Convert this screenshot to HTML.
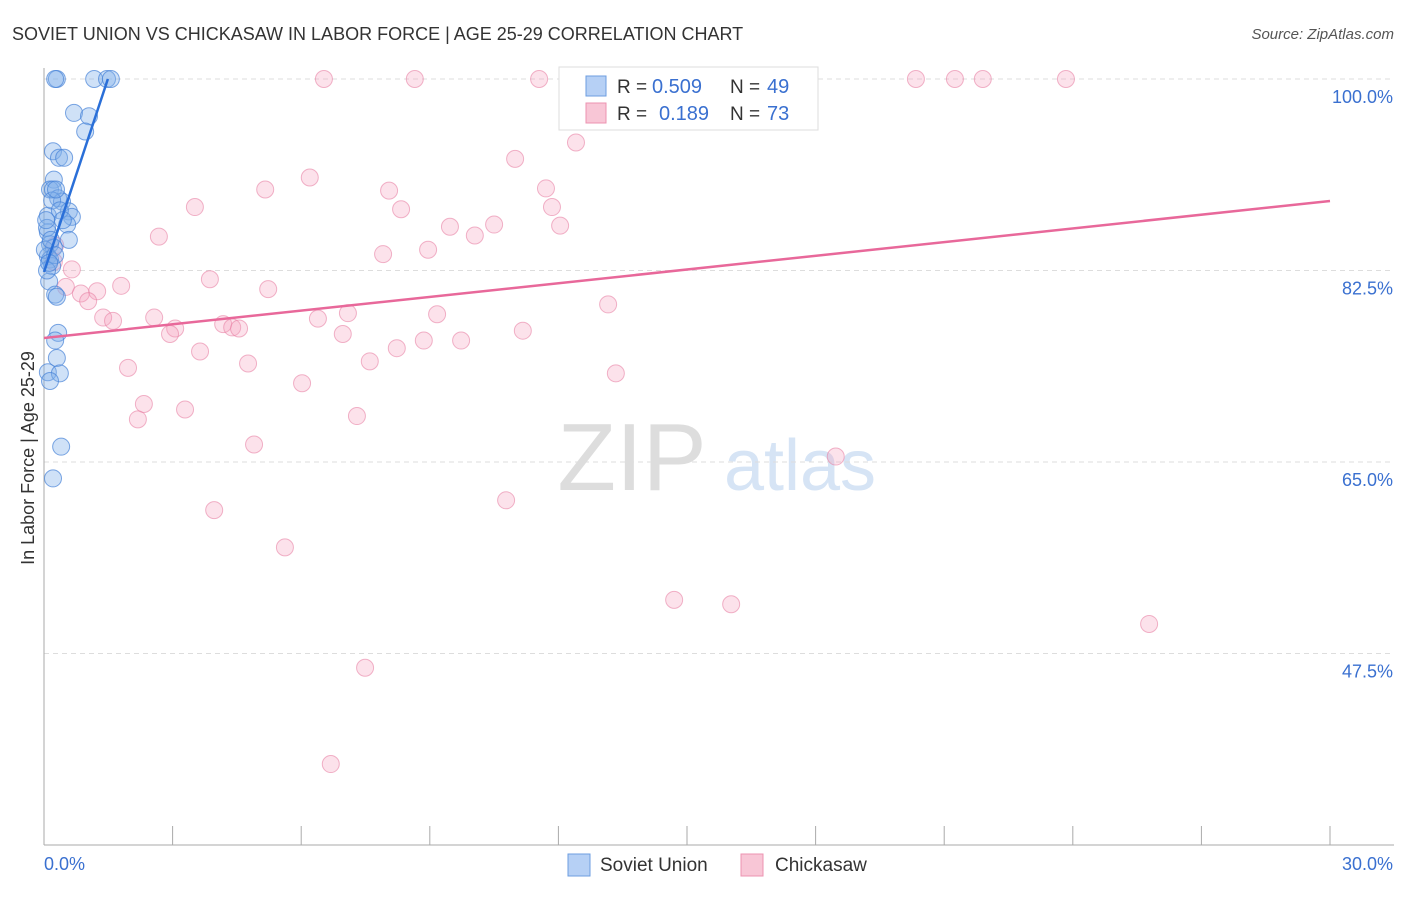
<!DOCTYPE html>
<html><head><meta charset="utf-8"><style>
body{margin:0;background:#fff;font-family:"Liberation Sans",sans-serif}
svg text{font-family:"Liberation Sans",sans-serif}
</style></head><body>
<svg id="c" width="1406" height="892">
<text x="12" y="40" font-size="18" fill="#333">SOVIET UNION VS CHICKASAW IN LABOR FORCE | AGE 25-29 CORRELATION CHART</text>
<text x="1394" y="39" font-size="15" fill="#555" text-anchor="end" font-style="italic">Source: ZipAtlas.com</text>
<text transform="translate(34,458) rotate(-90)" font-size="18" fill="#333" text-anchor="middle">In Labor Force | Age 25-29</text>
<g><text x="632" y="490" font-size="96" fill="#ddd" text-anchor="middle" font-family="Liberation Serif">ZIP</text><text x="800" y="490" font-size="72" fill="#d6e4f5" text-anchor="middle">atlas</text></g>
<g id="grid"></g><g id="axes"></g><g id="pts"></g><g id="lines"></g>
<g>
<rect x="559" y="67" width="259" height="63" fill="#fff" stroke="#ddd"/>
<rect x="586" y="76" width="20" height="20" fill="#b6d0f5" stroke="#6d9ee0"/>
<rect x="586" y="103" width="20" height="20" fill="#f8c6d6" stroke="#ec93b0"/>
<text x="617" y="93" font-size="19" fill="#333">R =</text><text x="652" y="93" font-size="20" fill="#3a70d0">0.509</text>
<text x="730" y="93" font-size="19" fill="#333">N =</text><text x="767" y="93" font-size="20" fill="#3a70d0">49</text>
<text x="617" y="120" font-size="19" fill="#333">R =</text><text x="659" y="120" font-size="20" fill="#3a70d0">0.189</text>
<text x="730" y="120" font-size="19" fill="#333">N =</text><text x="767" y="120" font-size="20" fill="#3a70d0">73</text>
</g>
<g>
<rect x="568" y="854" width="22" height="22" fill="#b6d0f5" stroke="#6d9ee0"/><text x="600" y="871" font-size="19" fill="#333">Soviet Union</text>
<rect x="741" y="854" width="22" height="22" fill="#f8c6d6" stroke="#ec93b0"/><text x="775" y="871" font-size="19" fill="#333">Chickasaw</text>
</g>
</svg>
<script>
const yTicks=[100,82.5,65,47.5];
const yTickLabels=["100.0%","82.5%","65.0%","47.5%"];
const xEndLabels=["0.0%","30.0%"];
const sovietX=[0.30,0.26,1.17,1.47,1.56,0.70,1.05,0.96,0.21,0.35,0.47,0.23,0.14,0.21,0.33,0.42,0.58,0.65,0.54,0.09,0.09,0.58,0.14,0.23,0.09,0.14,0.19,0.12,0.26,0.30,0.33,0.26,0.30,0.09,0.37,0.14,0.40,0.21,0.07,0.02,0.19,0.28,0.07,0.05,0.16,0.26,0.37,0.12,0.44];
const sovietY=[100,100,100,100,100,96.9,96.6,95.2,93.4,92.8,92.8,90.8,89.9,89.9,89.1,88.8,87.9,87.4,86.7,87.5,86.0,85.3,84.9,84.6,83.8,83.5,82.9,81.5,80.3,80.1,76.8,76.1,74.5,73.2,73.1,72.4,66.4,63.5,86.4,84.4,88.9,89.9,82.5,87.1,85.3,83.9,88.0,83.2,87.1];
const chickX=[6.53,8.65,11.55,16.63,20.34,21.25,21.90,23.84,12.41,10.99,6.20,11.71,5.16,8.05,3.52,8.33,11.85,10.50,9.47,12.04,10.05,2.68,8.96,7.91,0.26,0.23,0.65,3.87,1.80,5.23,0.51,1.24,0.86,1.03,13.16,1.38,1.61,2.57,7.09,6.39,9.17,3.06,2.94,4.18,4.39,4.55,6.97,11.17,8.86,9.73,8.23,3.64,7.60,1.96,4.76,13.34,6.02,2.33,3.29,2.19,7.30,4.90,18.47,10.78,3.97,5.62,14.70,16.03,25.78,7.49,6.69];
const chickY=[100,100,100,100,100,100,100,100,94.2,92.7,91.0,90.0,89.9,89.8,88.3,88.1,88.3,86.7,86.5,86.6,85.7,85.6,84.4,84.0,84.8,83.3,82.6,81.7,81.1,80.8,81.0,80.6,80.4,79.7,79.4,78.2,77.9,78.2,78.6,78.1,78.5,77.2,76.7,77.6,77.3,77.2,76.7,77.0,76.1,76.1,75.4,75.1,74.2,73.6,74.0,73.1,72.2,70.3,69.8,68.9,69.2,66.6,65.5,61.5,60.6,57.2,52.4,52.0,50.2,46.2,37.4];
const sovietTrend=[[0,82.36],[1.49,100]];
const chickTrend=[[0,76.33],[30,88.85]];
const NS="http://www.w3.org/2000/svg";
const X=v=>44+v*42.867, Y=v=>79+(100-v)*10.943;
function mk(p,t,a){const e=document.createElementNS(NS,t);for(const k in a)e.setAttribute(k,a[k]);document.getElementById(p).appendChild(e);return e;}
yTicks.forEach((t,i)=>{
 const l=mk('grid','line',{x1:44,x2:1394,y1:Y(t),y2:Y(t),stroke:'#ddd','stroke-dasharray':'5,4'});
 
 
 const tx=mk('axes','text',{x:1393,y:Y(t)+24,'font-size':18,fill:'#3a70d0','text-anchor':'end'});tx.textContent=yTickLabels[i];
 
 
});
const ax=mk('axes','line',{x1:44,x2:44,y1:68,y2:845,stroke:'#aaa'});


const bx=mk('axes','line',{x1:44,x2:1394,y1:845,y2:845,stroke:'#aaa'});


for(let i=0;i<=10;i++){const t=mk('axes','line',{x1:X(i*3),x2:X(i*3),y1:826,y2:845,stroke:'#aaa'});
 
 }
[[0,'start'],[30,'end']].forEach((d,i)=>{const t=mk('axes','text',{x:i?1393:44,y:870,'font-size':18,fill:'#3a70d0','text-anchor':d[1]});t.textContent=xEndLabels[i];
 
 });
chickX.forEach((v,i)=>{const c=mk('pts','circle',{cx:X(v),cy:Y(chickY[i]),r:8.5,fill:'rgba(244,160,190,0.3)',stroke:'rgba(232,130,165,0.6)'});
 
 });
sovietX.forEach((v,i)=>{const c=mk('pts','circle',{cx:X(v),cy:Y(sovietY[i]),r:8.5,fill:'rgba(130,175,235,0.38)',stroke:'rgba(70,130,215,0.7)'});
 
 });
const l1=mk('lines','line',{x1:X(chickTrend[0][0]),y1:Y(chickTrend[0][1]),x2:X(chickTrend[1][0]),y2:Y(chickTrend[1][1]),stroke:'#e8689a','stroke-width':2.5});


const l2=mk('lines','line',{x1:X(sovietTrend[0][0]),y1:Y(sovietTrend[0][1]),x2:X(sovietTrend[1][0]),y2:Y(sovietTrend[1][1]),stroke:'#2a6fd8','stroke-width':2.5});


</script>
</body></html>
